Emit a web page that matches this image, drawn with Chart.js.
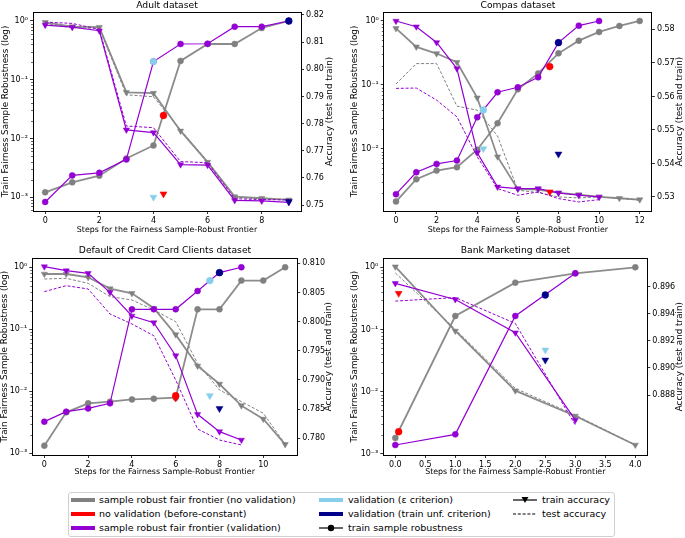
<!DOCTYPE html>
<html><head><meta charset="utf-8">
<script src="https://cdn.jsdelivr.net/npm/chart.js@4.4.1/dist/chart.umd.min.js"></script>
<style>
html,body{margin:0;padding:0;background:#fff;overflow:hidden;width:685px;height:538px;}
body{position:relative;font-family:"DejaVu Sans",sans-serif;}
canvas{position:absolute;}
.lg{position:absolute;font-size:9.5px;line-height:12px;white-space:nowrap;color:#000;}
.lh{position:absolute;}
#legendBox{position:absolute;left:68px;top:492px;width:547px;height:45px;border:1px solid #d0d0d0;border-radius:3px;box-sizing:border-box;background:#fff;}
</style></head><body>
<div id="legendBox"></div>
<svg class="lh" style="left:71px;top:495px" width="24" height="10"><line x1="0" y1="5" x2="24" y2="5" stroke="#808080" stroke-width="4"/></svg>
<span class="lg" style="left:99px;top:494px">sample robust fair frontier (no validation)</span>
<svg class="lh" style="left:71px;top:509px" width="24" height="10"><line x1="0" y1="5" x2="24" y2="5" stroke="#ff0000" stroke-width="4"/></svg>
<span class="lg" style="left:99px;top:508px">no validation (before-constant)</span>
<svg class="lh" style="left:71px;top:523px" width="24" height="10"><line x1="0" y1="5" x2="24" y2="5" stroke="#9400d3" stroke-width="4"/></svg>
<span class="lg" style="left:99px;top:522px">sample robust fair frontier (validation)</span>
<svg class="lh" style="left:319px;top:495px" width="24" height="10"><line x1="0" y1="5" x2="24" y2="5" stroke="#87ceeb" stroke-width="4"/></svg>
<span class="lg" style="left:348px;top:494px">validation (ε criterion)</span>
<svg class="lh" style="left:319px;top:509px" width="24" height="10"><line x1="0" y1="5" x2="24" y2="5" stroke="#00008b" stroke-width="4"/></svg>
<span class="lg" style="left:348px;top:508px">validation (train unf. criterion)</span>
<svg class="lh" style="left:319px;top:523px" width="24" height="10"><line x1="0" y1="5" x2="24" y2="5" stroke="#000" stroke-width="1.2"/><circle cx="12" cy="5" r="3.2" fill="#000"/></svg>
<span class="lg" style="left:348px;top:522px">train sample robustness</span>
<svg class="lh" style="left:513px;top:495px" width="24" height="10"><line x1="0" y1="5" x2="24" y2="5" stroke="#000" stroke-width="1.2"/><polygon points="8.5,2 15.5,2 12,8" fill="#000"/></svg>
<span class="lg" style="left:542px;top:494px">train accuracy</span>
<svg class="lh" style="left:513px;top:509px" width="24" height="10"><line x1="0" y1="5" x2="24" y2="5" stroke="#000" stroke-width="1" stroke-dasharray="3,1.8"/></svg>
<span class="lg" style="left:542px;top:508px">test accuracy</span>
<script>
// ---------------- DATA ----------------
const robTicks = [1e-3, 1e-2, 1e-1, 1];

// Adult
const adultSteps = [0,1,2,3,4,5,6,7,8,9];
const adultRobNoVal = [1.21e-3, 1.79e-3, 2.32e-3, 4.57e-3, 7.6e-3, 0.209, 0.406, 0.406, 0.76, 1.0];
const adultTrainAccNoVal = [0.8173, 0.8157, 0.8155, 0.7915, 0.7912, 0.7773, 0.7658, 0.7531, 0.7525, 0.7519];
const adultTestAccNoVal = [0.8169, 0.8153, 0.8151, 0.7906, 0.7899, 0.7777, 0.7660, 0.7528, 0.7523, 0.7521];
const adultStepsVal = [0,1,2,3,4,5,6,7,8,9];
const adultRobVal = [8.3e-4, 2.35e-3, 2.6e-3, 4.4e-3, 0.204, 0.406, 0.41, 0.80, 0.80, 1.0];
const adultTrainAccVal = [0.8163, 0.8155, 0.8142, 0.7777, 0.7767, 0.7649, 0.7647, 0.7517, 0.7515, 0.7510];
const adultTestAccVal = [0.8174, 0.8169, 0.8147, 0.7791, 0.7785, 0.7660, 0.7656, 0.7523, 0.7520, 0.7519];
const adultBeforeConst = [4.37, 0.0246, 0.7541];   // [step, robustness, accuracy]
const adultEpsCrit = [4, 0.204, 0.7529];
const adultUnfCrit = [9, 1.0, 0.7513];
const adultStepTicks = [0,2,4,6,8];
const adultAccTicks = [0.75,0.76,0.77,0.78,0.79,0.80,0.81,0.82];

// Compas
const compasSteps = [0,1,2,3,4,5,6,7,8,9,10,11,12];
const compasRobNoVal = [1.48e-3, 3.31e-3, 4.52e-3, 5.1e-3, 9.6e-3, 0.0249, 0.085, 0.151, 0.311, 0.492, 0.673, 0.835, 1.0];
const compasTrainAccNoVal = [0.5803, 0.5748, 0.5728, 0.5702, 0.5596, 0.5420, 0.5323, 0.5322, 0.5312, 0.5307, 0.5300, 0.5296, 0.5292];
const compasTestAccNoVal = [0.5637, 0.5698, 0.5698, 0.5571, 0.5559, 0.5482, 0.5320, 0.5313, 0.5300, 0.5297, 0.5300, 0.5296, 0.5290];
const compasStepsVal = [0,1,2,3,4,5,6,7,8,9,10];
const compasRobVal = [1.93e-3, 4.26e-3, 5.75e-3, 6.5e-3, 0.031, 0.0764, 0.0914, 0.131, 0.458, 0.845, 1.0];
const compasTrainAccVal = [0.5825, 0.5808, 0.5761, 0.5683, 0.5432, 0.5330, 0.5325, 0.5325, 0.5312, 0.5305, 0.5300];
const compasTestAccVal = [0.5624, 0.5625, 0.5589, 0.5539, 0.5420, 0.5325, 0.5305, 0.5315, 0.5295, 0.5285, 0.5292];
const compasBeforeConst = [7.57, 0.193, 0.5315];
const compasEpsCrit = [4.3, 0.0403, 0.5444];
const compasUnfCrit = [8, 0.458, 0.5428];
const compasStepTicks = [0,2,4,6,8,10,12];
const compasAccTicks = [0.53,0.54,0.55,0.56,0.57,0.58];

// Default of Credit Card Clients
const defaultSteps = [0,1,2,3,4,5,6,7,8,9,10,11];
const defaultRobNoVal = [1.33e-3, 4.58e-3, 6.4e-3, 6.8e-3, 7.4e-3, 7.6e-3, 7.9e-3, 0.21, 0.21, 0.61, 0.61, 1.0];
const defaultTrainAccNoVal = [0.80817, 0.80817, 0.8076, 0.80566, 0.80486, 0.80229, 0.79777, 0.7924, 0.78931, 0.7856, 0.78331, 0.77897];
const defaultTestAccNoVal = [0.80731, 0.80743, 0.80657, 0.80429, 0.80371, 0.8020, 0.8000, 0.79286, 0.78829, 0.7863, 0.7843, 0.7790];
const defaultStepsVal = [0,1,2,3,4,5,6,7,8,9];
const defaultRobVal = [3.24e-3, 4.7e-3, 5.3e-3, 6.4e-3, 0.21, 0.21, 0.21, 0.415, 0.82, 1.0];
const defaultTrainAccVal = [0.80943, 0.80874, 0.80829, 0.80503, 0.80097, 0.79983, 0.79417, 0.78411, 0.78114, 0.77971];
const defaultTestAccVal = [0.80514, 0.80617, 0.8056, 0.80131, 0.7996, 0.7976, 0.7900, 0.7816, 0.77971, 0.77886];
const defaultBeforeConst = [6, 8.5e-3, 0.7869];
const defaultEpsCrit = [7.56, 0.61, 0.7873];
const defaultUnfCrit = [8, 0.82, 0.7851];
const defaultStepTicks = [0,2,4,6,8,10];
const defaultAccTicks = [0.780,0.785,0.790,0.795,0.800,0.805,0.810];

// Bank Marketing
const bankSteps = [0,1,2,3,4];
const bankRobNoVal = [1.8e-3, 0.165, 0.567, 0.80, 1.0];
const bankTrainAccNoVal = [0.89748, 0.89273, 0.88832, 0.88645, 0.88431];
const bankTestAccNoVal = [0.89702, 0.89286, 0.88849, 0.88652, 0.88431];
const bankStepsVal = [0,1,2,3];
const bankRobVal = [1.39e-3, 2.06e-3, 0.165, 0.80];
const bankTrainAccVal = [0.89625, 0.89506, 0.8926, 0.88615];
const bankTestAccVal = [0.89494, 0.8952, 0.89329, 0.88578];
const bankBeforeConst = [0.056, 2.27e-3, 0.89551];
const bankEpsCrit = [2.5, null, 0.89132];
const bankUnfCrit = [2.5, 0.359, 0.89058];
const bankStepTicks = [0,0.5,1,1.5,2,2.5,3,3.5,4];
const bankAccTicks = [0.888,0.890,0.892,0.894,0.896];

// ---------------- DRAWING ----------------
const FAM = '"DejaVu Sans", sans-serif';
Chart.defaults.font.family = FAM;
Chart.defaults.color = '#000';
const GRAY = '#808080', PURPLE = '#9400d3', RED = '#ff0000', SKY = '#87ceeb', NAVY = '#00008b';
const sup = {'-':'\u207B','0':'\u2070','1':'\u00B9','2':'\u00B2','3':'\u00B3'};
function logLabel(v){ const e = Math.round(Math.log10(v)); return '10' + String(e).split('').map(c=>sup[c]).join(''); }
function pts(xs, ys){ return ys.map((y,i)=>({x:xs[i], y:y})); }

const deco = {
  id:'deco',
  afterDraw(chart, args, o){
    const {ctx, chartArea:a} = chart;
    ctx.save();
    ctx.strokeStyle = '#000'; ctx.lineWidth = 1;
    ctx.beginPath(); ctx.moveTo(a.left, Math.round(a.top)+0.5); ctx.lineTo(a.right, Math.round(a.top)+0.5); ctx.stroke();
    // minor log ticks
    const ys = chart.scales.y;
    ctx.lineWidth = 0.6;
    for (let n = Math.floor(Math.log10(ys.min)); n <= Math.ceil(Math.log10(ys.max)); n++) {
      for (let k = 2; k <= 9; k++) {
        const v = k*Math.pow(10,n);
        if (v < ys.min || v > ys.max) continue;
        const py = Math.round(ys.getPixelForValue(v))+0.5;
        ctx.beginPath(); ctx.moveTo(a.left, py); ctx.lineTo(a.left-2, py); ctx.stroke();
      }
    }
    // right-axis label (bottom-to-top)
    ctx.translate(o.rx, (a.top+a.bottom)/2);
    ctx.rotate(-Math.PI/2);
    ctx.font = '8.8px ' + FAM; ctx.fillStyle = '#000';
    ctx.textAlign = 'center'; ctx.textBaseline = 'middle';
    ctx.fillText(o.text, 0, 0);
    ctx.restore();
  }
};

function makePanel(p){
  const center = (p.L + p.R)/2;
  const CR = Math.round(p.R + 46);
  const CL = Math.round(2*center - CR);
  const CW = CR - CL;
  const CT = p.CT, CB = Math.round(p.xTitleY + 8), CH = CB - CT;
  const cv = document.createElement('canvas');
  cv.width = CW; cv.height = CH;
  cv.style.left = CL+'px'; cv.style.top = CT+'px';
  cv.style.width = CW+'px'; cv.style.height = CH+'px';
  document.body.appendChild(cv);

  const TS = 9.2;
  const titleLH = TS*1.2;
  const tPadTop = Math.max(0, p.titleY - CT - titleLH/2);
  const tPadBot = Math.max(0, (p.T - CT) - titleLH - tPadTop);
  const vLH = 8.8*1.2;
  const hLH = 7.9*1.2;

  const marker = (pt, idx, color, axis, order, tri) => (pt[idx] === null ? null : {
    data:[{x:pt[0], y:pt[idx]}], yAxisID:axis, showLine:false, order:order,
    pointStyle: tri ? 'triangle' : 'circle', pointRotation: tri ? 180 : 0,
    pointRadius: tri ? 4 : 3.4, pointBackgroundColor: color, pointBorderColor: color, pointBorderWidth: 0.5,
    borderColor: color, backgroundColor: color
  });
  const datasets = [
    marker(p.unf, 2, NAVY, 'y1', 0, true),
    marker(p.unf, 1, NAVY, 'y', 1, false),
    marker(p.eps, 2, SKY, 'y1', 2, true),
    marker(p.eps, 1, SKY, 'y', 3, false),
    marker(p.red, 2, RED, 'y1', 4, true),
    marker(p.red, 1, RED, 'y', 5, false),
    {data:pts(p.xsV, p.robV), yAxisID:'y', order:6, borderColor:PURPLE, borderWidth:1.2,
     pointStyle:'circle', pointRadius:3, pointBackgroundColor:PURPLE, pointBorderColor:PURPLE, pointBorderWidth:0.5},
    {data:pts(p.xsV, p.trV), yAxisID:'y1', order:7, borderColor:PURPLE, borderWidth:1.2,
     pointStyle:'triangle', pointRotation:180, pointRadius:3.6, pointBackgroundColor:PURPLE, pointBorderColor:PURPLE, pointBorderWidth:0.5},
    {data:pts(p.xsV, p.teV), yAxisID:'y1', order:8, borderColor:PURPLE, borderWidth:1, borderDash:[3,1.8], pointRadius:0},
    {data:pts(p.xs, p.rob), yAxisID:'y', order:9, borderColor:'rgba(128,128,128,0.9)', borderWidth:1.8,
     pointStyle:'circle', pointRadius:3, pointBackgroundColor:GRAY, pointBorderColor:GRAY, pointBorderWidth:0.5},
    {data:pts(p.xs, p.tr), yAxisID:'y1', order:10, borderColor:'rgba(128,128,128,0.9)', borderWidth:1.8,
     pointStyle:'triangle', pointRotation:180, pointRadius:3.6, pointBackgroundColor:GRAY, pointBorderColor:GRAY, pointBorderWidth:0.5},
    {data:pts(p.xs, p.te), yAxisID:'y1', order:11, borderColor:GRAY, borderWidth:1, borderDash:[3,1.8], pointRadius:0}
  ].filter(d => d);

  const tickFont = {family:FAM, size:8};
  const gridOpt = {drawOnChartArea:false, drawTicks:true, tickLength:3, color:'#000', lineWidth:0.8};
  const borderOpt = {display:true, color:'#000', width:1};

  new Chart(cv, {
    type:'line',
    data:{datasets},
    plugins:[deco],
    options:{
      responsive:false, animation:false, devicePixelRatio:1,
      layout:{padding:0},
      plugins:{
        legend:{display:false}, tooltip:{enabled:false},
        title:{display:true, text:p.title, color:'#000', font:{family:FAM, size:TS, weight:'normal'},
               padding:{top:tPadTop, bottom:tPadBot}},
        deco:{rx: p.rightTitleX - CL, text:'Accuracy (test and train)'}
      },
      scales:{
        x:{type:'linear', position:'bottom', min:p.xr[0], max:p.xr[1],
           afterBuildTicks:s=>{ s.ticks = p.xt.map(v=>({value:v})); },
           afterFit:s=>{ s.height = CB - p.B; },
           ticks:{font:tickFont, color:'#000', padding:2, autoSkip:false, maxRotation:0,
                  callback:v=> p.xDec ? Number(v).toFixed(p.xDec) : String(v)},
           grid:gridOpt, border:borderOpt,
           title:{display:true, text:'Steps for the Fairness Sample-Robust Frontier', color:'#000',
                  font:{family:FAM, size:7.9}, padding:{top:0, bottom:(CB - p.xTitleY) - hLH/2}}},
        y:{type:'logarithmic', position:'left', min:Math.pow(10,p.lr[0]), max:Math.pow(10,p.lr[1]),
           afterBuildTicks:s=>{ s.ticks = robTicks.filter(v=>v>=s.min && v<=s.max).map(v=>({value:v})); },
           afterFit:s=>{ s.width = p.L - CL; },
           ticks:{font:tickFont, color:'#000', padding:2, autoSkip:false, callback:v=>logLabel(v)},
           grid:gridOpt, border:borderOpt,
           title:{display:true, text:'Train Fairness Sample Robustness (log)', color:'#000',
                  font:{family:FAM, size:8.8}, padding:{top:(p.leftTitleX - CL) - vLH/2, bottom:0}}},
        y1:{type:'linear', position:'right', min:p.ar[0], max:p.ar[1],
           afterBuildTicks:s=>{ s.ticks = p.at.map(v=>({value:v})); },
           afterFit:s=>{ s.width = CR - p.R; },
           ticks:{font:tickFont, color:'#000', padding:2, autoSkip:false, callback:v=>Number(v).toFixed(p.aDec)},
           grid:gridOpt, border:borderOpt}
      }
    }
  });
}

makePanel({title:'Adult dataset', L:33, R:301, T:12, B:211, CT:0, titleY:5.5, xTitleY:230, leftTitleX:6, rightTitleX:330,
  xr:[-0.45,9.45], lr:[-3.235,0.153], ar:[0.7478,0.8211], xt:adultStepTicks, at:adultAccTicks, aDec:2, xDec:0,
  xs:adultSteps, rob:adultRobNoVal, tr:adultTrainAccNoVal, te:adultTestAccNoVal,
  xsV:adultStepsVal, robV:adultRobVal, trV:adultTrainAccVal, teV:adultTestAccVal,
  red:adultBeforeConst, eps:adultEpsCrit, unf:adultUnfCrit});

makePanel({title:'Compas dataset', L:383.8, R:651.9, T:12, B:211, CT:0, titleY:5.5, xTitleY:230, leftTitleX:354.7, rightTitleX:680,
  xr:[-0.6,12.6], lr:[-2.978,0.141], ar:[0.5258,0.5852], xt:compasStepTicks, at:compasAccTicks, aDec:2, xDec:0,
  xs:compasSteps, rob:compasRobNoVal, tr:compasTrainAccNoVal, te:compasTestAccNoVal,
  xsV:compasStepsVal, robV:compasRobVal, trV:compasTrainAccVal, teV:compasTestAccVal,
  red:compasBeforeConst, eps:compasEpsCrit, unf:compasUnfCrit});

makePanel({title:'Default of Credit Card Clients dataset', L:32.3, R:297.2, T:258.3, B:455, CT:240, titleY:250.7, xTitleY:472.3, leftTitleX:5, rightTitleX:329,
  xr:[-0.55,11.55], lr:[-3.027,0.145], ar:[0.77714,0.81086], xt:defaultStepTicks, at:defaultAccTicks, aDec:3, xDec:0,
  xs:defaultSteps, rob:defaultRobNoVal, tr:defaultTrainAccNoVal, te:defaultTestAccNoVal,
  xsV:defaultStepsVal, robV:defaultRobVal, trV:defaultTrainAccVal, teV:defaultTestAccVal,
  red:defaultBeforeConst, eps:defaultEpsCrit, unf:defaultUnfCrit});

makePanel({title:'Bank Marketing dataset', L:383.3, R:647.3, T:258.3, B:455, CT:240, titleY:250.7, xTitleY:472.3, leftTitleX:354.7, rightTitleX:680,
  xr:[-0.2,4.2], lr:[-3.018,0.145], ar:[0.88357,0.8981], xt:bankStepTicks, at:bankAccTicks, aDec:3, xDec:1,
  xs:bankSteps, rob:bankRobNoVal, tr:bankTrainAccNoVal, te:bankTestAccNoVal,
  xsV:bankStepsVal, robV:bankRobVal, trV:bankTrainAccVal, teV:bankTestAccVal,
  red:bankBeforeConst, eps:bankEpsCrit, unf:bankUnfCrit});
</script>
</body></html>
